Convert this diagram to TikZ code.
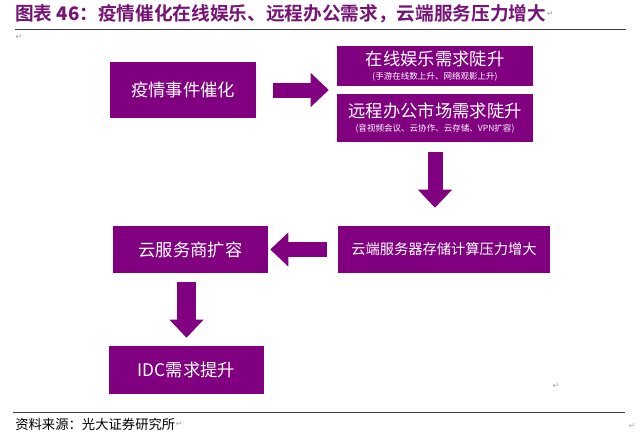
\documentclass[tikz,border=0pt]{standalone}
\usepackage{fontspec}
\setmainfont{Liberation Sans}
\newfontfamily\cjk{Noto Sans CJK SC}
\newfontfamily\cjkbf{Noto Sans CJK SC Bold}
\newfontfamily\symfont{DejaVu Sans}
\usepackage{tikz}
\usetikzlibrary{positioning,arrows.meta}
\definecolor{plum}{RGB}{128,0,128}
\definecolor{titleplum}{RGB}{118,20,118}

\begin{document}
\begin{tikzpicture}[x=0.75pt,y=-0.75pt,
    box/.style={fill=plum, text=white, inner sep=0pt, align=center},
    fat/.style={draw=plum, line width=11.25pt,
      -{Triangle[width=25.5pt,length=13.5pt,line width=0pt]}},
    pmark/.style={text=gray!70, font=\symfont\fontsize{6pt}{7pt}\selectfont, inner sep=0pt}]
    \useasboundingbox (0,0) rectangle (640,439);
    \fill[white] (0,0) rectangle (640,439);

    % Title and rules
    \node[anchor=west, inner sep=0pt, text=titleplum] (title) at (15,14)
      {\fontsize{14pt}{16pt}\selectfont\cjkbf 图表 {\bfseries 46}：疫情催化在线娱乐、远程办公需求，云端服务压力增大};
    \draw[black!75, line width=0.75pt] (15,29) -- (626,29);
    \draw[black!75, line width=0.75pt] (13,412) -- (625,412);
    \node[anchor=west, inner sep=0pt] (src) at (15,424)
      {\fontsize{10pt}{12pt}\selectfont\cjk 资料来源：光大证券研究所};

    % Paragraph marks
    \node[pmark, anchor=west] (m1) at (title.east) {↵};
    \node[pmark] (m2) at (19,37) {↵};
    \node[pmark, anchor=west] (m3) at (src.east) {↵};
    \node[pmark] (m4) at (556,386) {↵};
    \node[pmark] (m5) at (632,426) {↵};

    % Boxes
    \node[box, minimum width=109.5pt, minimum height=42pt] (evt) at (183,90)
      {\fontsize{13pt}{15pt}\selectfont\cjk 疫情事件催化};
    \node[box, minimum width=147pt, minimum height=30pt] (ent) at (435,66)
      {{\fontsize{13pt}{14pt}\selectfont\cjk 在线娱乐需求陡升}\\[-2pt]
       {\fontsize{6.4pt}{7pt}\selectfont\cjk (手游在线数上升、网络观影上升)}};
    \node[box, minimum width=147pt, minimum height=36pt] (rem) at (435,118)
      {{\fontsize{13pt}{14pt}\selectfont\cjk 远程办公市场需求陡升}\\[-2pt]
       {\fontsize{6.4pt}{7pt}\selectfont\cjk (音视频会议、云协作、云存储、VPN扩容)}};
    \node[box, minimum width=159pt, minimum height=35.25pt] (srv) at (444,249.5)
      {\fontsize{10.7pt}{12pt}\selectfont\cjk 云端服务器存储计算压力增大};
    \node[box, minimum width=116.25pt, minimum height=35.25pt] (csp) at (190.5,249.5)
      {\fontsize{13pt}{15pt}\selectfont\cjk 云服务商扩容};
    \node[box, minimum width=116.25pt, minimum height=36pt] (idc) at (186.5,370)
      {\fontsize{13pt}{15pt}\selectfont\cjk IDC需求提升};

    % Arrows
    \draw[fat, shorten <=12.75pt, shorten >=6pt] (evt.east) -- (evt.east -| ent.west);
    \draw[fat, shorten <=7.5pt, shorten >=13.5pt] (rem.south) -- (rem.south |- srv.north);
    \draw[fat, shorten <=8.25pt, shorten >=1.5pt] (srv.west) -- (srv.west -| csp.east);
    \draw[fat, line width=14.25pt, shorten <=6.75pt, shorten >=6pt] (csp.south -| idc.north) -- (idc.north);
\end{tikzpicture}
\end{document}
